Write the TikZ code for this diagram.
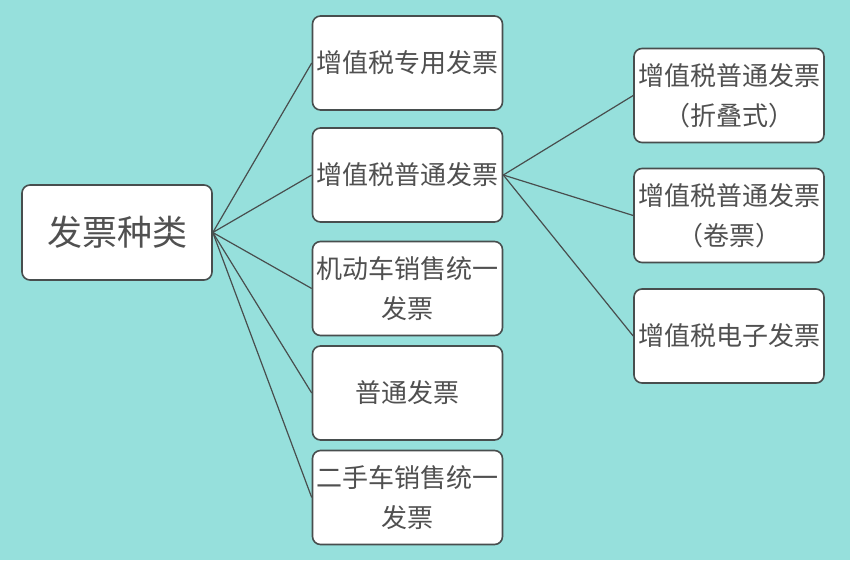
\documentclass[tikz,border=0pt]{standalone}
\usepackage{fontspec}
\newfontfamily\cjk{Noto Sans CJK SC}
\definecolor{bgc}{RGB}{150,224,220}
\definecolor{edgec}{RGB}{72,78,78}
\definecolor{txtc}{RGB}{80,80,80}
\tikzset{
  box/.style={draw=edgec, fill=white, line width=1.6pt, rounded corners=8pt,
    minimum width=190pt, minimum height=94pt, inner sep=0pt,
    text width=190pt, align=center, text=txtc,
    font=\cjk\fontsize{26}{40}\selectfont},
  rootbox/.style={box, minimum height=95pt, font=\cjk\fontsize{35}{42}\selectfont},
  link/.style={draw=edgec, line width=1.2pt}
}
\begin{document}
\begin{tikzpicture}[x=1pt,y=-1pt]
\fill[bgc] (0,0) rectangle (850,560);
\useasboundingbox (0,0) rectangle (850,560);
\node[rootbox] (root) at (117,232.5) {发票种类};
\node[box] (m1) at (407.5,63) {增值税专用发票};
\node[box] (m2) at (407.5,175) {增值税普通发票};
\node[box] (m3) at (407.5,288.5) {机动车销售统一\\发票};
\node[box] (m4) at (407.5,393) {普通发票};
\node[box] (m5) at (407.5,497.5) {二手车销售统一\\发票};
\node[box] (r1) at (729,95.5) {增值税普通发票\\（折叠式）};
\node[box] (r2) at (729,215.5) {增值税普通发票\\（卷票）};
\node[box] (r3) at (729,336) {增值税电子发票};
\foreach \m in {m1,m2,m3,m4,m5}{\draw[link] (root.east) -- (\m.west);}
\foreach \r in {r1,r2,r3}{\draw[link] (m2.east) -- (\r.west);}
\end{tikzpicture}
\end{document}
